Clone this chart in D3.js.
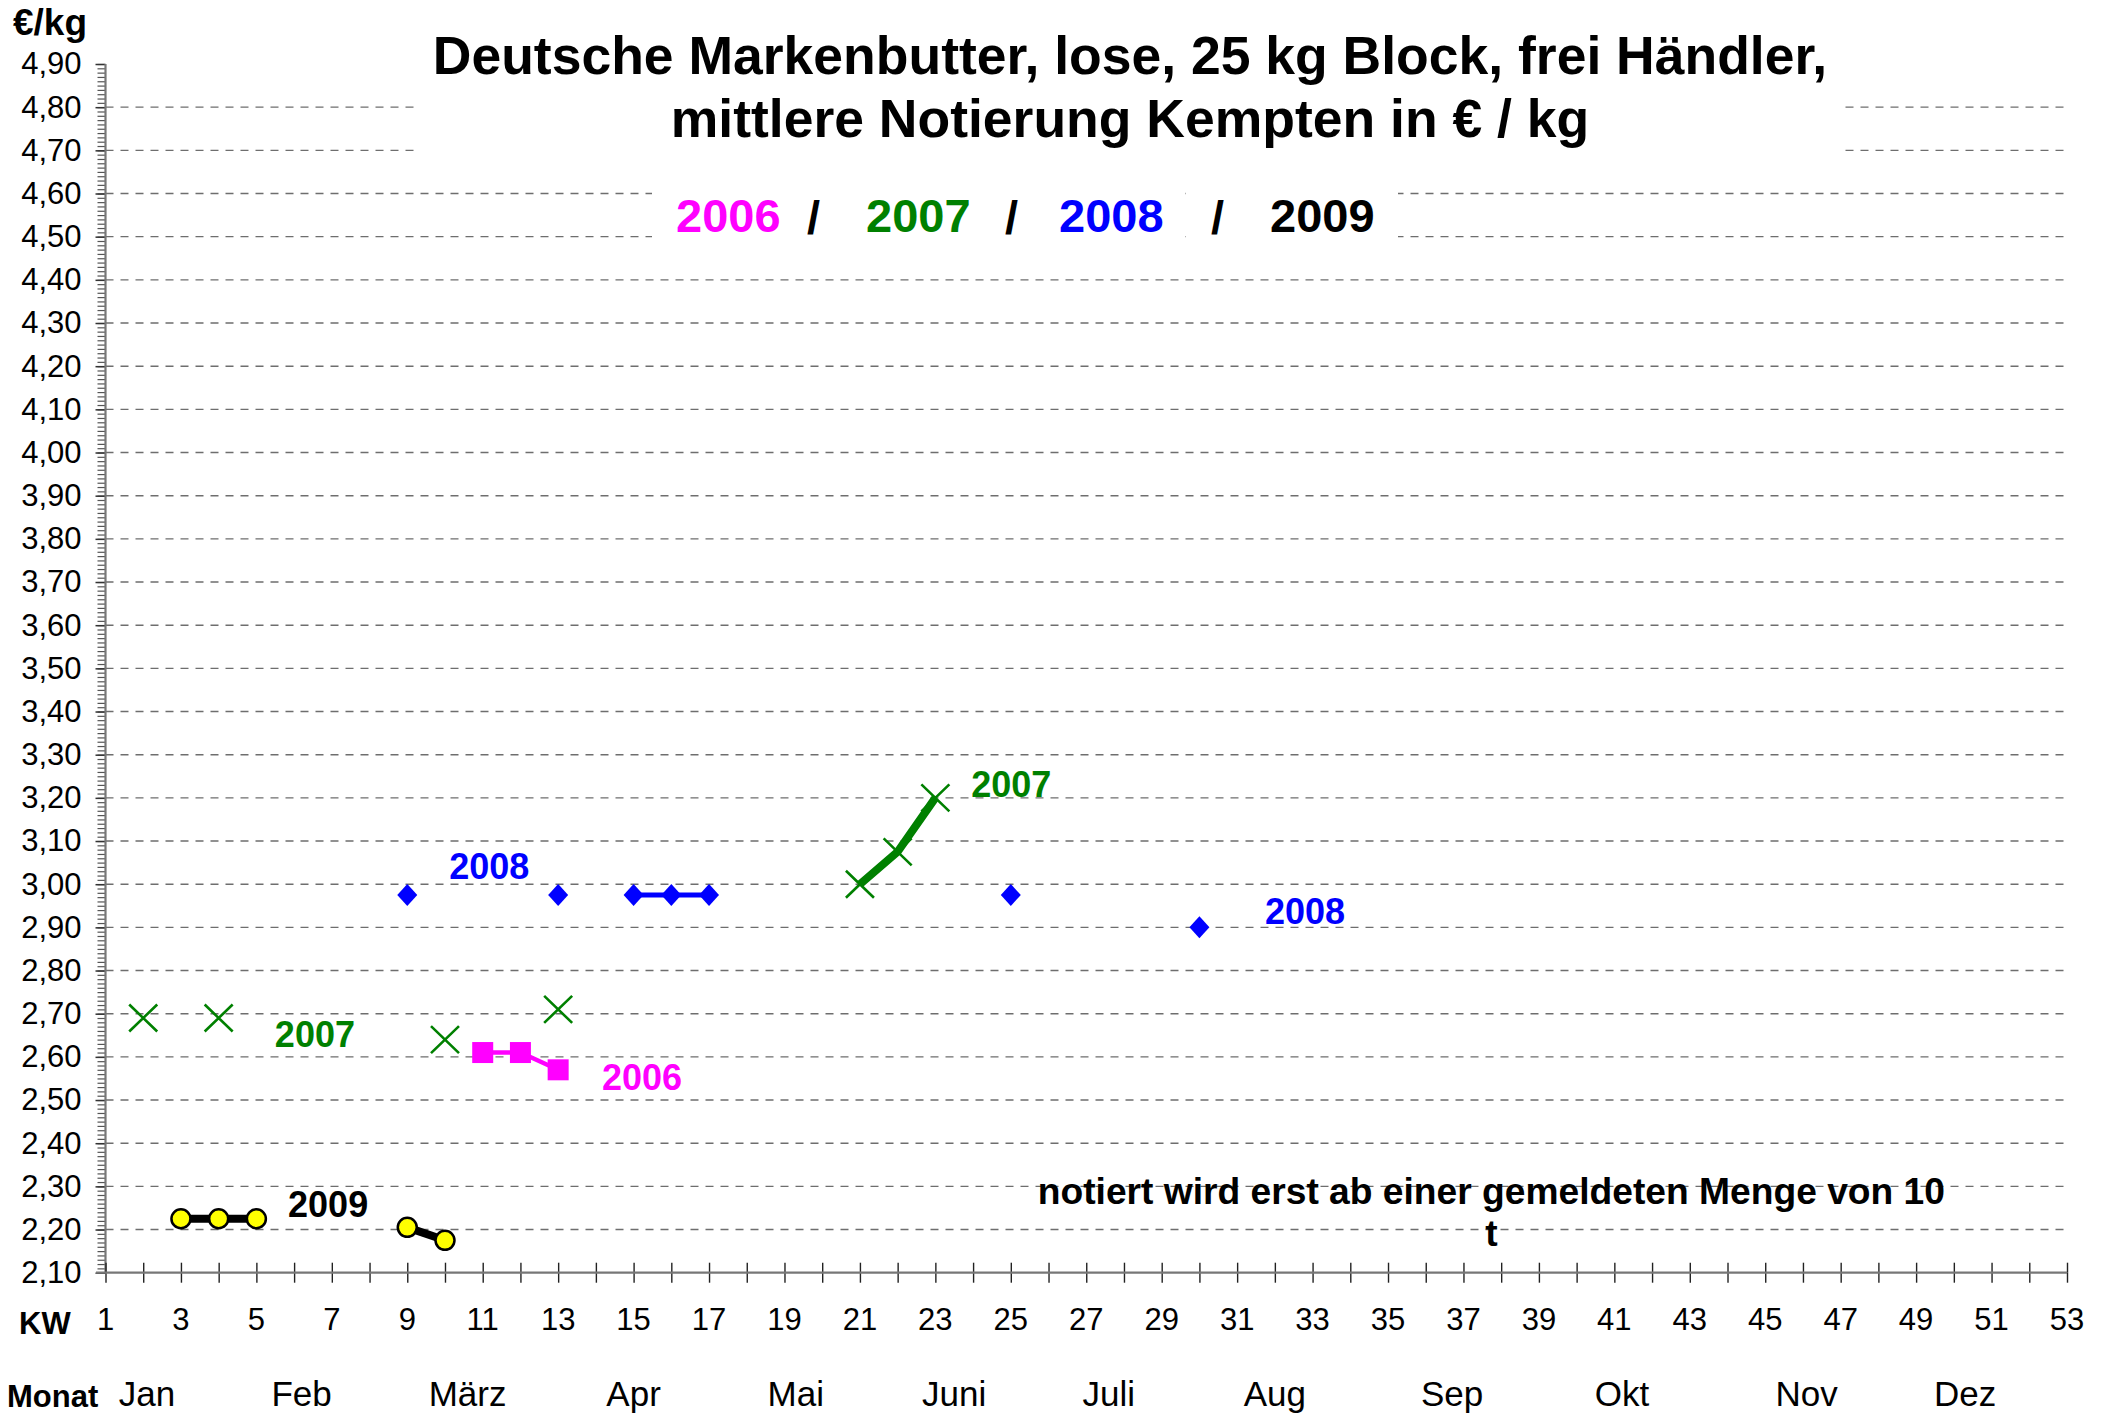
<!DOCTYPE html>
<html><head><meta charset="utf-8">
<script src="https://cdn.jsdelivr.net/npm/d3@7"></script>
<style>
body{margin:0;background:#fff}
svg{display:block}
text{font-family:"Liberation Sans",Arial,Helvetica,sans-serif}
</style>
</head><body>
<svg id="c" width="2114" height="1415"></svg>
<script>
// ---------- data ----------
const weeks = d3.range(1, 54);
const kwTicks = d3.range(1, 54, 2);
const yMajor = d3.range(21, 50).map(d => d / 10);
const yMinor = d3.range(210, 491).map(d => d / 100);
const yGrid = d3.range(22, 49).map(d => d / 10);
const months = ["Jan","Feb","März","Apr","Mai","Juni","Juli","Aug","Sep","Okt","Nov","Dez"];
const monthPos = [2.1, 6.2, 10.6, 15.0, 19.3, 23.5, 27.6, 32.0, 36.7, 41.2, 46.1, 50.3];

const kw2006 = [11, 12, 13];
const val2006 = [2.61, 2.61, 2.57];
const kw2007 = [2, 4, 10, 13, 21, 22, 23];
const val2007 = [2.69, 2.69, 2.64, 2.71, 3.00, 3.075, 3.20];
const kw2008 = [9, 13, 15, 16, 17, 25, 30];
const val2008 = [2.975, 2.975, 2.975, 2.975, 2.975, 2.975, 2.90];
const kw2009 = [3, 4, 5, 9, 10];
const val2009 = [2.225, 2.225, 2.225, 2.205, 2.175];

const legendYears = ["2006", "2007", "2008", "2009"];
const annText = ["2008", "2007", "2008", "2007", "2006", "2009"];
const annKw  = [10.11, 23.95, 31.74, 5.49, 14.16, 5.84];
const annVal = [3.012, 3.202, 2.908, 2.623, 2.523, 2.229];

// ---------- setup ----------
const col = {"2006": "#FF00FF", "2007": "#008000", "2008": "#0000FF", "2009": "#000000"};
const svg = d3.select("#c");
const x = d3.scaleLinear().domain([1, 53]).range([105.5, 2067]);
const y = d3.scaleLinear().domain([2.1, 4.9]).range([1272.7, 64]);
const fmt = v => d3.format(".2f")(v).replace(".", ",");

// gridlines
svg.append("g").selectAll("line").data(yGrid).join("line")
  .attr("x1", x(1)).attr("x2", x(53))
  .attr("y1", d => y(d)).attr("y2", d => y(d))
  .attr("stroke", "#6e6e6e").attr("stroke-width", 1.4)
  .attr("stroke-dasharray", "8,7");

// white boxes behind title / legend
svg.append("rect").attr("x", 420).attr("y", 20).attr("width", 1421).attr("height", 150).attr("fill", "#fff");
svg.append("rect").attr("x", 652).attr("y", 178).attr("width", 529).attr("height", 70).attr("fill", "#fff");
svg.append("rect").attr("x", 1186).attr("y", 178).attr("width", 212).attr("height", 70).attr("fill", "#fff");

// y axis
const gy = svg.append("g").attr("transform", `translate(${x(1)},0)`);
gy.call(d3.axisLeft(y).tickValues(yMinor).tickSize(8).tickFormat(""));
gy.selectAll(".tick line").attr("stroke", "#555").attr("stroke-width", 1.2);
const gy2 = svg.append("g").attr("transform", `translate(${x(1)},0)`);
gy2.call(d3.axisLeft(y).tickValues(yMajor).tickSize(10).tickPadding(14).tickFormat(fmt));
gy2.selectAll(".tick line").attr("stroke", "#333").attr("stroke-width", 1.5);
gy2.selectAll(".tick text").attr("font-size", 31).attr("fill", "#000").attr("font-family", '"Liberation Sans",Arial,sans-serif');
svg.selectAll(".domain").remove();
svg.append("line").attr("x1", x(1)).attr("x2", x(1)).attr("y1", y(4.9)).attr("y2", y(2.1))
  .attr("stroke", "#777").attr("stroke-width", 2.2);

// x axis
const gx1 = svg.append("g").attr("transform", `translate(0,${y(2.1)})`)
  .call(d3.axisBottom(x).tickValues(weeks).tickSize(10).tickFormat(""));
const gx2 = svg.append("g").attr("transform", `translate(0,${y(2.1)})`)
  .call(d3.axisTop(x).tickValues(weeks).tickSize(10).tickFormat(""));
[gx1, gx2].forEach(g => { g.select(".domain").remove(); g.selectAll(".tick line").attr("stroke", "#222").attr("stroke-width", 1.4); });
svg.append("line").attr("x1", 96).attr("x2", x(53)).attr("y1", y(2.1)).attr("y2", y(2.1))
  .attr("stroke", "#777").attr("stroke-width", 2.2);

svg.append("g").selectAll("text").data(kwTicks).join("text")
  .attr("x", d => x(d)).attr("y", 1330).attr("text-anchor", "middle")
  .attr("font-size", 31).text(d => d);
svg.append("g").selectAll("text").data(months).join("text")
  .attr("x", (d, i) => x(monthPos[i])).attr("y", 1406).attr("text-anchor", "middle")
  .attr("font-size", 35).text(d => d);
svg.append("text").attr("x", 19).attr("y", 1334).attr("font-size", 31).attr("font-weight", "bold").text("KW");
svg.append("text").attr("x", 7).attr("y", 1407).attr("font-size", 31).attr("font-weight", "bold").text("Monat");
svg.append("text").attr("x", 13).attr("y", 35).attr("font-size", 37).attr("font-weight", "bold").text("€/kg");

// series
function byWeek(kws, vals) {
  return weeks.map(w => { const i = kws.indexOf(w); return {kw: w, v: i < 0 ? null : vals[i]}; });
}
const line = d3.line().defined(d => d.v != null).x(d => x(d.kw)).y(d => y(d.v));
const series = [
  {year: "2006", kws: kw2006, vals: val2006, w: 4.5},
  {year: "2007", kws: kw2007, vals: val2007, w: 8},
  {year: "2008", kws: kw2008, vals: val2008, w: 5},
  {year: "2009", kws: kw2009, vals: val2009, w: 8}
];
series.forEach(s => {
  svg.append("path").datum(byWeek(s.kws, s.vals)).attr("d", line)
    .attr("fill", "none").attr("stroke", col[s.year]).attr("stroke-width", s.w)
    .attr("stroke-linejoin", "round").attr("stroke-linecap", "butt");
});
const pts = s => s.kws.map((k, i) => ({kw: k, v: s.vals[i]}));
// 2006 squares
svg.append("g").selectAll("rect").data(pts(series[0])).join("rect")
  .attr("x", d => x(d.kw) - 10.5).attr("y", d => y(d.v) - 10.5).attr("width", 21).attr("height", 21)
  .attr("fill", col["2006"]);
// 2007 crosses
svg.append("g").selectAll("path").data(pts(series[1])).join("path")
  .attr("transform", d => `translate(${x(d.kw)},${y(d.v)})`)
  .attr("d", "M-14,-13.5L14,13.5M-14,13.5L14,-13.5")
  .attr("stroke", col["2007"]).attr("stroke-width", 2.6).attr("fill", "none");
// 2008 diamonds
svg.append("g").selectAll("path").data(pts(series[2])).join("path")
  .attr("transform", d => `translate(${x(d.kw)},${y(d.v)})`)
  .attr("d", "M0,-11L10,0L0,11L-10,0Z").attr("fill", col["2008"]);
// 2009 circles
svg.append("g").selectAll("circle").data(pts(series[3])).join("circle")
  .attr("cx", d => x(d.kw)).attr("cy", d => y(d.v)).attr("r", 9.5)
  .attr("fill", "#FFFF00").attr("stroke", "#000").attr("stroke-width", 2.5);

// annotations
svg.append("g").selectAll("text").data(annText).join("text")
  .attr("x", (d, i) => x(annKw[i])).attr("y", (d, i) => y(annVal[i]))
  .attr("font-size", 36).attr("font-weight", "bold").attr("fill", d => col[d]).text(d => d);

// note
const note = svg.append("text").attr("text-anchor", "middle").attr("font-size", 37.2).attr("font-weight", "bold");
note.append("tspan").attr("x", x(37.74)).attr("y", y(2.259)).text("notiert wird erst ab einer gemeldeten Menge von 10");
note.append("tspan").attr("x", x(37.74)).attr("y", y(2.162)).text("t");

// title
const title = svg.append("text").attr("text-anchor", "middle").attr("font-size", 53.5).attr("font-weight", "bold");
title.append("tspan").attr("x", 1130).attr("y", 74).text("Deutsche Markenbutter, lose, 25 kg Block, frei Händler,");
title.append("tspan").attr("x", 1130).attr("y", 137).text("mittlere Notierung Kempten in € / kg");

// year legend
const legX = [676, 866, 1059, 1270];
const slashX = [807, 1005, 1211];
svg.append("g").selectAll("text").data(legendYears).join("text")
  .attr("x", (d, i) => legX[i]).attr("y", 232).attr("font-size", 47).attr("font-weight", "bold")
  .attr("fill", d => col[d]).text(d => d);
svg.append("g").selectAll("text").data(slashX).join("text")
  .attr("x", d => d).attr("y", 234).attr("font-size", 47).attr("font-weight", "bold").text("/");
</script>
</body></html>
